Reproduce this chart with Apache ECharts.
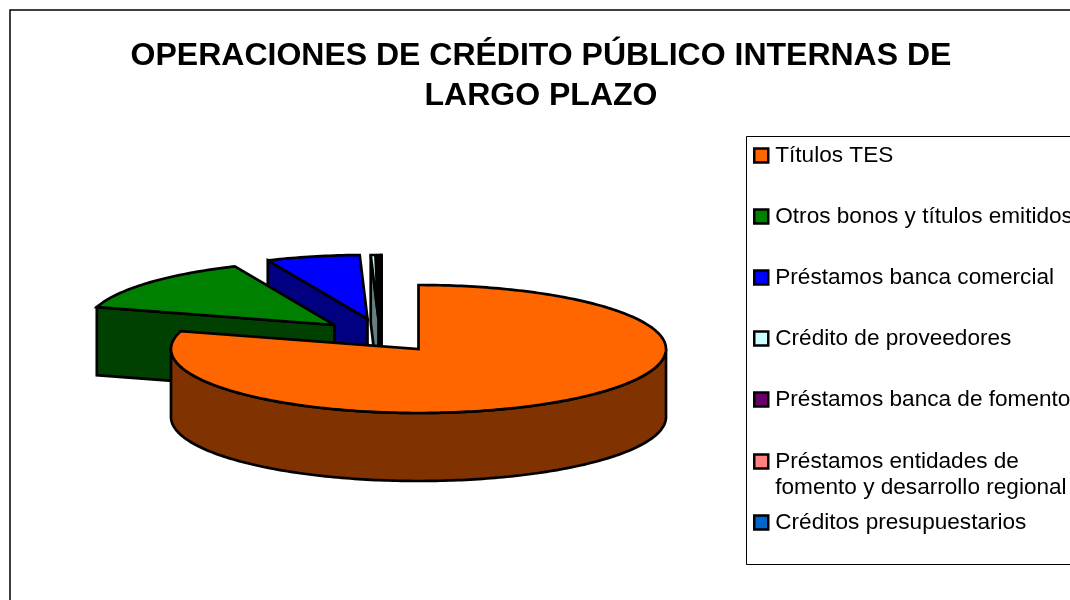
<!DOCTYPE html>
<html><head><meta charset="utf-8">
<style>html,body{margin:0;padding:0;background:#fff}#c{width:1070px;height:600px}</style>
<script src="https://cdn.jsdelivr.net/npm/echarts@6/dist/echarts.min.js"></script>
</head><body><div id="c"></div>
<script>
var categories = ['Títulos TES','Otros bonos y títulos emitidos','Préstamos banca comercial','Crédito de proveedores','Préstamos banca de fomento','Préstamos entidades de fomento y desarrollo regional','Créditos presupuestarios'];
var shares = [79.5,13.9,6.1,0.3,0.15,0.03,0.02];
var topColors = ['#FF6600','#008000','#0000FF','#CCFFFF','#660066','#FF8080','#0066CC'];
var sideColors = ['#803300','#004000','#000080','#668080','#330033','#804040','#003366'];
var explodeX = [0,-84,-51,-40,-38,-37,-37];
var explodeY = [0,-24,-30,-30,-30,-30,-30];
var layerZ = [20,19,18,17,16,15,15];
var CX=418.5, CY=349, RX=247.5, RY=64, DEPTH=68;
var total = shares.reduce(function(a,b){return a+b;},0);
var FONT='"Liberation Sans", Arial, sans-serif';

function pt(i,deg,d){
  var r=deg*Math.PI/180;
  return [CX+explodeX[i]+RX*Math.sin(r), CY+explodeY[i]-RY*Math.cos(r)+(d||0)];
}
function arc(i,a,b,d){
  var out=[],n=Math.max(1,Math.ceil(Math.abs(b-a)));
  for(var k=0;k<=n;k++) out.push(pt(i,a+(b-a)*k/n,d));
  return out;
}
function poly(points,fill){
  return {type:'polygon',shape:{points:points},style:{fill:fill,stroke:'#000',lineWidth:2.7,lineJoin:'miter',miterLimit:3}};
}
function makeRender(i){
  return function(params,api){
    var start=api.value(1)/total*360, end=start+api.value(0)/total*360;
    var apex=[CX+explodeX[i],CY+explodeY[i]];
    var ch=[];
    if(start>180){
      var s=pt(i,start);
      ch.push(poly([apex,s,[s[0],s[1]+DEPTH],[apex[0],apex[1]+DEPTH]],sideColors[i]));
    }
    var w0=Math.max(start,90), w1=Math.min(end,270);
    if(w1>w0){
      ch.push(poly(arc(i,w0,w1,0).concat(arc(i,w1,w0,DEPTH)),sideColors[i]));
    }
    ch.push(poly([apex].concat(arc(i,start,end,0)),topColors[i]));
    return {type:'group',children:ch};
  };
}
var cumulative=0;
var series=categories.map(function(name,i){
  var row=[shares[i],cumulative]; cumulative+=shares[i];
  return {type:'custom',name:name,coordinateSystem:'none',renderItem:makeRender(i),
    z:layerZ[i],silent:true,animation:false,clip:false,
    itemStyle:{color:topColors[i]},data:[row]};
});

function legendOf(names,top,gap,fmt){
  return {orient:'vertical',left:753,top:top,padding:0,itemGap:gap,itemWidth:14,itemHeight:14,selectedMode:false,
    icon:'rect',
    itemStyle:{borderColor:'#000',borderWidth:2.5},
    textStyle:{fontFamily:FONT,fontSize:22.6,color:'#000',lineHeight:26,padding:[7,0,0,2]},
    formatter:fmt||'{name}',
    data:names};
}
var option={
  backgroundColor:'#fff',animation:false,
  title:{text:'OPERACIONES DE CRÉDITO PÚBLICO INTERNAS DE\nLARGO PLAZO',left:536,top:31,textAlign:'center',
    textStyle:{fontFamily:FONT,fontSize:32,fontWeight:'bold',color:'#000',lineHeight:40}},
  legend:[
    legendOf(categories.slice(0,5),139,28),
    legendOf([categories[5]],419,0,function(){return '\nPréstamos entidades de\nfomento y desarrollo regional';}),
    legendOf([categories[6]],506,0)
  ],
  graphic:[
    {type:'rect',silent:true,z:-1,shape:{x:10,y:10,width:1200,height:800},style:{fill:'#fff',stroke:'#000',lineWidth:1.5}},
    {type:'rect',silent:true,z:-1,shape:{x:746.5,y:136.5,width:500,height:428},style:{fill:'#fff',stroke:'#000',lineWidth:1}}
  ],
  series:series
};
echarts.init(document.getElementById('c'),null,{renderer:'canvas'}).setOption(option);
</script></body></html>
